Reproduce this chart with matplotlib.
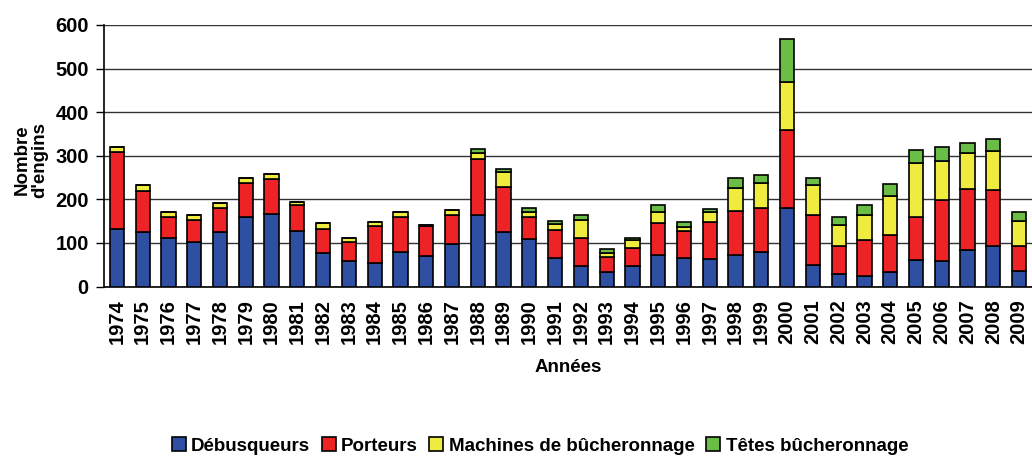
import matplotlib
matplotlib.use("Agg")
import matplotlib.pyplot as plt
import numpy as np

plt.rcParams['font.family'] = ['Liberation Sans', 'DejaVu Sans']
plt.rcParams['font.weight'] = 'bold'

years = [str(y) for y in range(1974, 2010)]
debusqueurs = [131, 125, 112, 101, 125, 160, 166, 127, 77, 58, 54, 79, 69, 97, 165, 124, 109, 66,
               46, 34, 47, 72, 66, 63, 73, 79, 180, 50, 29, 24, 34, 60, 58, 83, 94, 36]
porteurs = [178, 95, 48, 52, 56, 78, 80, 59, 56, 44, 85, 81, 69, 68, 127, 105, 51, 63,
            65, 34, 42, 74, 61, 85, 100, 101, 180, 114, 65, 83, 84, 100, 140, 140, 127, 56]
machines = [12, 12, 11, 10, 11, 11, 13, 9, 12, 9, 9, 10, 2, 10, 15, 33, 11, 14,
            42, 10, 18, 25, 9, 22, 52, 58, 109, 70, 47, 58, 90, 124, 90, 84, 91, 59]
tetes = [0, 0, 0, 0, 0, 0, 0, 0, 0, 0, 0, 0, 0, 0, 8, 8, 10, 7,
         12, 7, 5, 15, 12, 8, 23, 17, 99, 16, 19, 22, 28, 29, 32, 22, 27, 19]

series = [
    ("Débusqueurs", debusqueurs, "#2E4FA2"),
    ("Porteurs", porteurs, "#EE2326"),
    ("Machines de bûcheronnage", machines, "#F0EC3F"),
    ("Têtes bûcheronnage", tetes, "#6BBE45"),
]

fig = plt.figure(figsize=(10.32, 4.58), dpi=100)
ax = fig.add_axes([104/1032, 1 - 286.5/458, (1032-104)/1032, (286.5-25)/458])

x = np.arange(len(years))
bottom = np.zeros(len(years))
for name, vals, col in series:
    vals = np.array(vals, dtype=float)
    ax.bar(x, vals, 0.55, bottom=bottom, color=col, edgecolor="black", linewidth=1.2,
           label=name, zorder=3)
    bottom += vals

ax.set_ylim(0, 600)
ax.set_xlim(-0.5, len(years) - 0.5)
ax.set_yticks(range(0, 601, 100))
ax.yaxis.grid(True, color="#333333", linewidth=1.0, zorder=0)
ax.set_axisbelow(True)
for s in ["top", "right"]:
    ax.spines[s].set_visible(False)
ax.spines["left"].set_color("black")
ax.spines["bottom"].set_color("black")
ax.spines["left"].set_linewidth(1.2)
ax.spines["bottom"].set_linewidth(1.2)
ax.set_xticks(x)
ax.set_xticklabels(years, rotation=90, fontsize=14.5, fontweight="bold")
ax.tick_params(axis="x", length=0, pad=9)
ax.tick_params(axis="y", labelsize=14.5, length=6, width=1.0, pad=5)
for t in ax.get_yticklabels():
    t.set_fontweight("bold")

fig.text(568/1032, 1 - 367/458, "Années", ha="center", va="center",
         fontsize=13.5, fontweight="bold")
fig.text(0.030, 1 - 160/458, "Nombre\nd'engins", rotation=90, ha="center", va="center",
         fontsize=13.5, fontweight="bold", linespacing=1.0)

handles, labels = ax.get_legend_handles_labels()
leg = fig.legend(handles, labels, loc="center", bbox_to_anchor=(540/1032, 1 - 446/458), ncol=4,
                 frameon=False, handlelength=0.75, handleheight=0.75,
                 handletextpad=0.3, columnspacing=0.6, prop={"weight": "bold", "size": 13.5})

fig.savefig("out.png", dpi=100)
